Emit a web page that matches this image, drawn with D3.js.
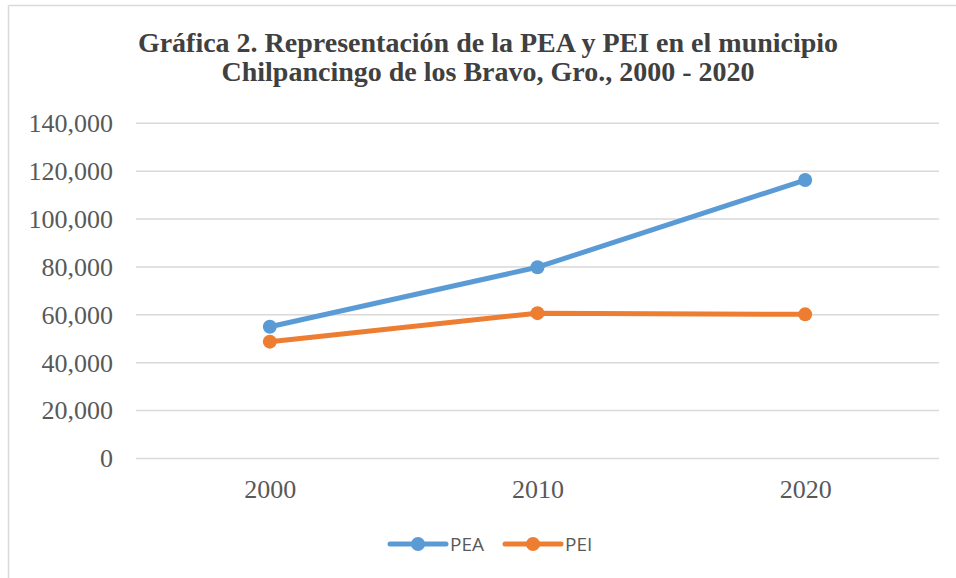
<!DOCTYPE html>
<html>
<head>
<meta charset="utf-8">
<script src="https://cdn.jsdelivr.net/npm/d3@7"></script>
<style>
  body { margin: 0; background: #fff; }
  svg { display: block; }
</style>
</head>
<body>
<svg id="chart"></svg>
<script>
const years = ["2000", "2010", "2020"];
const pea = [55000, 79900, 116300];
const pei = [48800, 60700, 60200];
const yTicks = [0, 20000, 40000, 60000, 80000, 100000, 120000, 140000];
const seriesNames = ["PEA", "PEI"];

const width = 956, height = 578;
const margin = { left: 136, right: 17, top: 123.3, bottom: 119.5 };
const innerWidth = width - margin.left - margin.right;
const innerHeight = height - margin.top - margin.bottom;

const colors = { PEA: "#5B9BD5", PEI: "#ED7D31" };
const serif = "'Liberation Serif', 'Times New Roman', serif";

const svg = d3.select("#chart")
  .attr("width", width)
  .attr("height", height);

// chart area frame (only top and left edges show in the picture)
svg.append("line")
  .attr("x1", 8.5).attr("x2", width).attr("y1", 5.5).attr("y2", 5.5)
  .attr("stroke", "#D9D9D9").attr("stroke-width", 1.5);
svg.append("line")
  .attr("x1", 8.5).attr("x2", 8.5).attr("y1", 5.5).attr("y2", height)
  .attr("stroke", "#D9D9D9").attr("stroke-width", 1.5);

// title
const title = svg.append("text")
  .attr("text-anchor", "middle")
  .attr("font-family", serif)
  .attr("font-weight", "bold")
  .attr("font-size", 28)
  .attr("fill", "#404040");
title.append("tspan").attr("x", 488).attr("y", 52)
  .text("Gráfica 2. Representación de la PEA y PEI en el municipio");
title.append("tspan").attr("x", 488).attr("y", 81)
  .text("Chilpancingo de los Bravo, Gro., 2000 - 2020");

const g = svg.append("g")
  .attr("transform", `translate(${margin.left},${margin.top})`);

const xScale = d3.scalePoint()
  .domain(years)
  .range([0, innerWidth])
  .padding(0.5);

const yScale = d3.scaleLinear()
  .domain([0, 140000])
  .range([innerHeight, 0]);

// gridlines
g.append("g")
  .selectAll("line")
  .data(yTicks)
  .join("line")
  .attr("x1", 0).attr("x2", innerWidth)
  .attr("y1", d => yScale(d)).attr("y2", d => yScale(d))
  .attr("stroke", "#D9D9D9")
  .attr("stroke-width", 1.5);

// y axis labels
const yAxis = d3.axisLeft(yScale)
  .tickValues(yTicks)
  .tickFormat(d3.format(","))
  .tickSize(0)
  .tickPadding(23);
const yAxisG = g.append("g").call(yAxis);
yAxisG.select(".domain").remove();
yAxisG.selectAll("text")
  .attr("font-family", serif)
  .attr("font-size", 26)
  .attr("fill", "#595959");

// x axis labels
const xAxis = d3.axisBottom(xScale).tickSize(0).tickPadding(21);
const xAxisG = g.append("g")
  .attr("transform", `translate(0,${innerHeight})`)
  .call(xAxis);
xAxisG.select(".domain").remove();
xAxisG.selectAll("text")
  .attr("font-family", serif)
  .attr("font-size", 26)
  .attr("fill", "#595959");

// lines
const series = [
  { name: "PEA", values: pea },
  { name: "PEI", values: pei }
];

const line = d3.line()
  .x((d, i) => xScale(years[i]))
  .y(d => yScale(d));

series.forEach(s => {
  g.append("path")
    .datum(s.values)
    .attr("d", line)
    .attr("fill", "none")
    .attr("stroke", colors[s.name])
    .attr("stroke-width", 5)
    .attr("stroke-linejoin", "round")
    .attr("stroke-linecap", "round");

  g.selectAll(null)
    .data(s.values)
    .join("circle")
    .attr("cx", (d, i) => xScale(years[i]))
    .attr("cy", d => yScale(d))
    .attr("r", 7)
    .attr("fill", colors[s.name]);
});

// legend
const legendX = [390, 505];
const legend = svg.append("g");
seriesNames.forEach((name, i) => {
  const lg = legend.append("g").attr("transform", `translate(${legendX[i]},544)`);
  lg.append("line")
    .attr("x1", 0).attr("x2", 56)
    .attr("stroke", colors[name])
    .attr("stroke-width", 5)
    .attr("stroke-linecap", "round");
  lg.append("circle")
    .attr("cx", 28).attr("r", 7)
    .attr("fill", colors[name]);
  lg.append("text")
    .attr("x", 60).attr("y", 7)
    .attr("font-family", "'Open Sans', 'Liberation Sans', sans-serif")
    .attr("font-size", 19)
    .attr("fill", "#595959")
    .text(name);
});
</script>
</body>
</html>
